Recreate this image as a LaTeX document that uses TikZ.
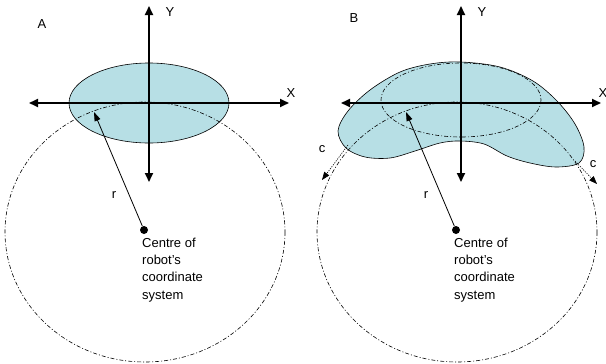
\documentclass[tikz,border=0pt]{standalone}
\usepackage{fontspec}
\setmainfont{Liberation Sans}
\usetikzlibrary{arrows.meta}
\definecolor{shapeblue}{RGB}{183,223,229}
\tikzset{
  axis/.style={line width=1.8pt, {Triangle[length=9pt,width=8pt]}-{Triangle[length=9pt,width=8pt]}},
  dashdot/.style={line width=0.6pt, dash pattern=on 4pt off 2pt on 1pt off 2pt},
  radiusarrow/.style={line width=0.8pt, -{Triangle[length=9pt,width=6pt]}},
  carrow/.style={line width=0.6pt, dash pattern=on 1.2pt off 1.2pt, -{Triangle[length=8pt,width=6pt]}},
  centredot/.style={circle, fill=black, inner sep=0pt, minimum size=8pt},
  lbl/.style={font=\fontsize{13}{17.3}\selectfont}
}

\begin{document}
\begin{tikzpicture}[x=1pt, y=-1pt, >=Latex]
\useasboundingbox (0,0) rectangle (606,364);

% ===== A PANEL: ellipse =====
\filldraw[fill=shapeblue, draw=black, line width=0.6pt] (149,103) ellipse (80 and 40);

% ===== B PANEL: deformed shape =====
\filldraw[fill=shapeblue, draw=black, line width=0.6pt]
  plot[smooth cycle, tension=0.55] coordinates {
    (461,62) (500,67) (533,81) (557,101) (575,124) (584,147) (579,163)
    (556,167) (530,163) (507,156) (484,144) (460,141) (440,143) (415,151)
    (390,158) (365,157) (346,148) (338,131) (348,111) (370,90) (400,72) (430,64)};

% ===== SHARED PARTS =====
\foreach \panel/\lab/\ly in {0/A/24, 312/B/18} {
  \node[lbl] (name\lab) at (\panel+42, \ly) {\lab};
  % reach of the robot
  \draw[dashdot] (\panel+145, 232) ellipse (140 and 130);
  % axes
  \coordinate (xl\lab) at (\panel+29, 103);
  \coordinate (xr\lab) at (\panel+289, 103);
  \coordinate (yt\lab) at (\panel+149, 6);
  \coordinate (yb\lab) at (\panel+149, 182);
  \draw[axis] (xl\lab) -- (xr\lab);
  \draw[axis] (yb\lab) -- (yt\lab);
  \node[lbl] (xlab\lab) at (\panel+291, 93) {X};
  \node[lbl] (ylab\lab) at (\panel+170, 12) {Y};
  % centre and radius
  \node[centredot] (dot\lab) at (\panel+144, 230) {};
  \coordinate (rt\lab) at (\panel+94, 112);
  \draw[radiusarrow] (dot\lab) -- (rt\lab);
  \node[lbl] (r\lab) at (\panel+114, 195) {r};
  \node[lbl, anchor=base west, align=left, inner sep=0pt] (txt\lab) at (\panel+142, 299)
    {Centre of\\robot’s\\coordinate\\system};
}

% ===== B PANEL: extras =====
\draw[dashdot] (461,100) ellipse (80 and 37);
\coordinate (cls) at (348,145);
\coordinate (cle) at (322,180);
\coordinate (crs) at (575,161);
\coordinate (cre) at (597,184);
\draw[carrow] (cls) -- (cle);
\draw[carrow] (crs) -- (cre);
\node[lbl] (cl) at (322,149) {c};
\node[lbl] (cr) at (593,164) {c};

\end{tikzpicture}
\end{document}
